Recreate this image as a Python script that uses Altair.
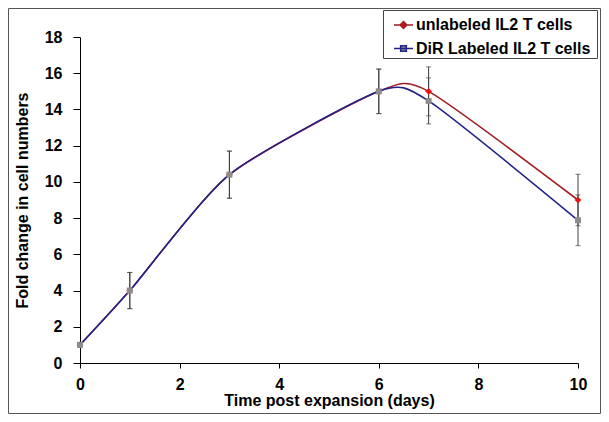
import altair as alt
import pandas as pd

# ---- data ----
days = [0, 1, 3, 6, 7, 10]
unlabeled = [1.0, 4.0, 10.4, 15.0, 15.0, 9.0]
unlabeled_err = [0.0, 1.0, 1.3, 1.23, 1.35, 1.42]
dir_labeled = [1.0, 4.0, 10.4, 15.0, 14.47, 7.88]
dir_err = [0.0, 1.0, 1.3, 1.23, 1.27, 1.4]
x_ticks = [0, 2, 4, 6, 8, 10]
y_ticks = [0, 2, 4, 6, 8, 10, 12, 14, 16, 18]

S1 = "unlabeled IL2 T cells"
S2 = "DiR Labeled IL2 T cells"

rows = []
for d, v, e in zip(days, unlabeled, unlabeled_err):
    rows.append({"day": d, "value": v, "lo": v - e, "hi": v + e, "err": e, "series": S1})
for d, v, e in zip(days, dir_labeled, dir_err):
    rows.append({"day": d, "value": v, "lo": v - e, "hi": v + e, "err": e, "series": S2})
df = pd.DataFrame(rows)
df_err = df[df["err"] > 0]

FONT = "Liberation Sans"
W, H = 498, 326
RED_LINE, RED_PT = "#A01C22", "#EE1111"
BLUE_LINE, GREY_PT = "#22228A", "#8C8C8C"

X_AXIS = alt.Axis(values=x_ticks, title="Time post expansion (days)",
                  titlePadding=0, labelOverlap=False, labelFlush=False)
Y_AXIS = alt.Axis(values=y_ticks, title="Fold change in cell numbers",
                  titlePadding=14, labelOverlap=False, labelFlush=False)


def X(field="day"):
    return alt.X(f"{field}:Q", scale=alt.Scale(domain=[0, 10], nice=False), axis=X_AXIS)


def Y(field="value"):
    return alt.Y(f"{field}:Q", scale=alt.Scale(domain=[0, 18], nice=False), axis=Y_AXIS)


base = alt.Chart(df)
errbase = alt.Chart(df_err)

diamond_line = "M-1,0L1,0M0,-0.36L0.36,0L0,0.36L-0.36,0Z"
square_line = "M-1,0L1,0M-0.3,-0.3L0.3,-0.3L0.3,0.3L-0.3,0.3Z"

leg_common = dict(title=None, orient="none", padding=0, labelOffset=2,
                  symbolSize=361, symbolStrokeWidth=1.5, symbolOpacity=1,
                  labelFont=FONT, labelFontSize=16, labelFontWeight="bold",
                  labelColor="black", labelLimit=300)

legend1 = alt.Legend(legendX=313, legendY=-22.5, symbolType=diamond_line,
                     symbolFillColor=RED_PT, **leg_common)
legend2 = alt.Legend(legendX=313, legendY=1, symbolType=square_line,
                     symbolFillColor=GREY_PT, **leg_common)

err_rule = errbase.mark_rule(color="#404040", strokeWidth=1).encode(
    x=X(), y=Y("lo"), y2="hi:Q")
cap_lo = errbase.mark_tick(orient="horizontal", color="#404040", size=5, thickness=1).encode(
    x=X(), y=Y("lo"))
cap_hi = errbase.mark_tick(orient="horizontal", color="#404040", size=5, thickness=1).encode(
    x=X(), y=Y("hi"))

line1 = base.transform_filter(alt.datum.series == S1).mark_line(
    interpolate="cardinal", tension=0.35, strokeWidth=1.6).encode(
    x=X(), y=Y(),
    stroke=alt.Stroke("series:N", scale=alt.Scale(domain=[S1], range=[RED_LINE]), legend=legend1))
line2 = base.transform_filter(alt.datum.series == S2).mark_line(
    interpolate="cardinal", tension=0.35, strokeWidth=1.6).encode(
    x=X(), y=Y(),
    color=alt.Color("series:N", scale=alt.Scale(domain=[S2], range=[BLUE_LINE]), legend=legend2))

pts1 = base.transform_filter(alt.datum.series == S1).mark_point(
    shape="diamond", filled=True, size=45, color=RED_PT, opacity=1).encode(x=X(), y=Y())
pts2 = base.transform_filter(alt.datum.series == S2).mark_point(
    shape="square", filled=True, size=36, color=GREY_PT, opacity=1).encode(x=X(), y=Y())

one = alt.Data(values=[{"a": 1}])
border = alt.Chart(one).mark_rect(
    fill="transparent", stroke="#555555", strokeWidth=1).encode(
    x=alt.value(-71.5), x2=alt.value(W + 22.5), y=alt.value(-28.5), y2=alt.value(H + 50.5))
legend_box = alt.Chart(one).mark_rect(
    fill="white", stroke="#444444", strokeWidth=1).encode(
    x=alt.value(303.5), x2=alt.value(517.5), y=alt.value(-26.5), y2=alt.value(21.5))

chart = alt.layer(border, err_rule, cap_lo, cap_hi, line1, line2, pts1, pts2, legend_box).properties(
    width=W, height=H,
    autosize=alt.AutoSizeParams(type="none"),
    padding={"left": 72, "top": 29, "right": 23, "bottom": 51},
    background="white",
).configure_view(stroke=None).configure_axis(
    grid=False, domainColor="black", domainWidth=1, tickColor="black", tickWidth=1,
    labelFont=FONT, labelFontSize=16, labelFontWeight="bold", labelColor="black",
    titleFont=FONT, titleFontSize=16, titleFontWeight="bold", titleColor="black",
).configure_axisX(tickSize=5, labelPadding=8).configure_axisY(tickSize=7, labelPadding=11)

chart.save("out.html", embed_options={"renderer": "svg", "actions": False})
